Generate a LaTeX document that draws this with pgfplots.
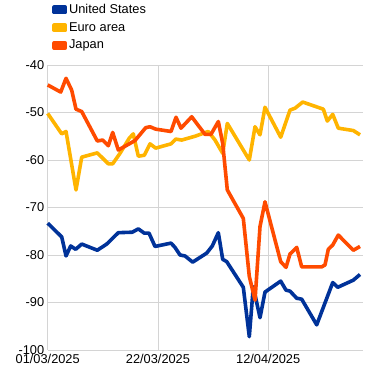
\documentclass[border=0pt]{standalone}
\usepackage{pgfplots}
\pgfplotsset{compat=1.18}
\usepackage{fontspec}
\setmainfont{Liberation Sans}
\definecolor{usblue}{HTML}{003299}
\definecolor{euyellow}{HTML}{FFB400}
\definecolor{jporange}{HTML}{FF4B00}
\begin{document}
\fontsize{12.8}{15}\selectfont
\begin{tikzpicture}
\useasboundingbox (0,0) rectangle (372pt,374pt);
\begin{axis}[
  at={(47.7pt,24pt)}, anchor=south west,
  scale only axis, width=315pt, height=285pt,
  xmin=0, xmax=60, ymin=-100, ymax=-40,
  xtick={0,21,42}, xticklabels={01/03/2025,22/03/2025,12/04/2025},
  ytick={-100,-90,-80,-70,-60,-50,-40},
  /pgf/number format/assume math mode=true,
  ticklabel style={font=\fontsize{12.8}{15}\selectfont},
  xticklabel style={yshift=0pt},
  yticklabel style={xshift=1pt},
  major tick length=0pt,
  xmajorgrids, ymajorgrids, grid style={draw=black!17, line width=0.8pt},
  axis line style={draw=none},
  clip=false,
  legend cell align=left,
  legend style={draw=none, fill=none, at={(0.005,1.221)}, anchor=north west,
    font=\fontsize{12.8}{15}\selectfont, row sep=3pt, inner ysep=0pt,
    /tikz/every even column/.append style={column sep=0pt}},
  legend image code/.code={\fill[#1] (0pt,-2.6pt) rectangle (11pt,2.6pt);},
]
\addplot[usblue, line width=3.6pt, line join=round] coordinates {
(0,-73.3) (2.67,-76.2) (3.49,-80.2) (4.38,-78.1) (5.33,-78.8) (6.48,-77.7)
(9.45,-79.0) (11.24,-77.7) (13.45,-75.3) (16.11,-75.2) (17.26,-74.5) (18.4,-75.4)
(19.3,-75.4) (20.44,-78.2) (23.49,-77.5) (24.25,-78.4) (25.2,-80.0) (26.15,-80.2)
(27.62,-81.5) (30.29,-79.6) (31.35,-78.1) (32.5,-75.3) (33.33,-80.9) (34.1,-81.4)
(37.26,-86.8) (38.4,-97.2) (39.16,-86.7) (40.44,-93.2) (41.39,-87.8) (44.38,-85.5)
(45.39,-87.4) (46.15,-87.6) (47.43,-89.1) (48.38,-89.3) (51.24,-94.7) (54.29,-85.8)
(55.24,-86.8) (58.21,-85.3) (59.49,-84.1)
};
\addlegendentry{United States}
\addplot[euyellow, line width=3.6pt, line join=round] coordinates {
(0,-50.2) (2.67,-54.5) (3.49,-54.0) (5.39,-66.3) (6.48,-59.4) (9.45,-58.5)
(11.54,-60.8) (12.38,-60.8) (13.77,-58.6) (15.54,-55.4) (16.3,-54.5) (17.26,-59.2)
(18.4,-59.0) (19.49,-56.6) (20.57,-57.5) (23.49,-56.6) (24.38,-55.6) (25.52,-55.8)
(28.06,-55.0) (30.59,-54.0) (31.87,-55.8) (33.33,-58.6) (34.21,-52.3) (38.4,-60.0)
(39.49,-53.0) (40.44,-54.7) (41.39,-48.9) (44.38,-55.2) (46.15,-49.5) (47.1,-49.1)
(48.57,-47.8) (52.5,-49.3) (53.26,-51.8) (54.29,-50.4) (55.35,-53.3) (58.21,-53.8)
(59.49,-54.7)
};
\addlegendentry{Euro area}
\addplot[jporange, line width=3.6pt, line join=round] coordinates {
(0,-44.2) (2.48,-45.7) (3.49,-42.8) (4.57,-45.3) (5.39,-49.3) (6.48,-49.8)
(9.45,-56.0) (10.48,-55.8) (11.54,-57.0) (12.38,-54.2) (13.45,-57.9) (15.54,-56.6)
(16.63,-55.9) (18.67,-53.2) (19.49,-53.0) (20.57,-53.5) (23.49,-54.0) (24.44,-51.0)
(25.39,-53.3) (27.43,-50.9) (29.96,-54.6) (31.1,-54.6) (32.5,-51.9) (33.33,-56.5)
(34.21,-66.3) (37.26,-72.3) (38.4,-84.5) (39.49,-89.5) (40.44,-74.0) (41.39,-68.8)
(44.38,-81.4) (45.39,-82.6) (46.15,-79.8) (47.43,-78.4) (48.38,-82.5) (52.19,-82.5)
(52.82,-82.1) (53.45,-78.8) (54.29,-77.9) (55.35,-75.8) (58.21,-79.0) (59.49,-78.2)
};
\addlegendentry{Japan}
\end{axis}
\end{tikzpicture}
\end{document}
